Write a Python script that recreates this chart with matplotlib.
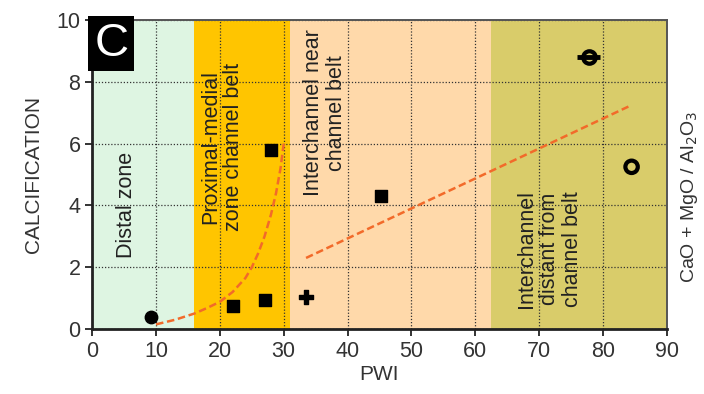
import matplotlib.pyplot as plt
import numpy as np

plt.rcParams['font.family'] = ['Liberation Sans', 'DejaVu Sans']

# zones (PWI ranges)
zone_edges = [0, 16, 31, 62.5, 90]
zone_colors = ['#def5e2', '#ffc500', '#ffd9aa', '#d9cc6a']

# samples
circle_x, circle_y = [9.2], [0.38]
square_x = [22, 27, 28, 45.2]
square_y = [0.75, 0.95, 5.8, 4.3]
plus_x, plus_y = [33.5], [1.05]
err_x, err_y, err_xerr = [77.8], [8.8], [1.8]
open_x, open_y = [84.5], [5.25]

# trend curves
curve1_x = [10, 13, 16, 18, 20, 22, 24, 25, 26, 27, 28, 28.8, 29.5, 30]
curve1_y = [0.15, 0.3, 0.5, 0.68, 0.88, 1.2, 1.65, 2.0, 2.45, 3.0, 3.7, 4.4, 5.2, 6.0]
line2_x = [33.5, 84]
line2_y = [2.3, 7.2]

fig = plt.figure(figsize=(7.04, 3.94), dpi=100)
ax = fig.add_axes([0.131, 0.165, 0.816, 0.784])

for i in range(len(zone_colors)):
    ax.axvspan(zone_edges[i], zone_edges[i + 1], color=zone_colors[i], lw=0, zorder=0)

ax.grid(True, color='#333333', linestyle=(0, (1, 1.5)), linewidth=0.9, zorder=1)

ax.plot(curve1_x, curve1_y, color='#f26a2a', ls=(0, (3, 1.5)), lw=1.8, zorder=3)
ax.plot(line2_x, line2_y, color='#f26a2a', ls=(0, (3, 1.5)), lw=1.8, zorder=3)

ax.scatter(circle_x, circle_y, marker='o', s=80, color='black', zorder=4)
ax.scatter(square_x, square_y, marker='s', s=85, color='black', zorder=4)
ax.scatter(plus_x, plus_y, marker='P', s=90, color='black', zorder=4)
ax.errorbar(err_x, err_y, xerr=err_xerr, fmt='o', ms=9, mfc='none', mec='black',
            mew=3, ecolor='black', elinewidth=3.5, capsize=0, zorder=4)
ax.scatter(open_x, open_y, marker='o', s=80, facecolors='none', edgecolors='black',
           linewidths=3, zorder=4)

txt = dict(rotation=90, ha='center', va='center', fontsize=15.5, color='#222222',
           linespacing=1.12, zorder=5)
ax.text(5.4, 4.0, 'Distal zone', **txt)
ax.text(20.3, 5.9, 'Proximal-medial\nzone channel belt', **txt)
ax.text(36.5, 7.0, 'Interchannel near\nchannel belt', **txt)
ax.text(71.7, 2.6, 'Interchannel\ndistant from\nchannel belt', **txt)

ax.text(0.3, 9.95, 'C', ha='left', va='top', fontsize=34, color='white', zorder=6,
        bbox=dict(boxstyle='square,pad=0.12', fc='black', ec='none'))

ax.set_xlim(0, 90)
ax.set_ylim(0, 10)
ax.set_xticks(np.arange(0, 91, 10))
ax.set_yticks(np.arange(0, 11, 2))
ax.tick_params(labelsize=15.5, colors='#333333', length=5, width=1.4)
ax.set_xlabel('PWI', fontsize=15, color='#333333', labelpad=2)
ax.set_ylabel('CALCIFICATION', fontsize=15, color='#333333', labelpad=10)

for s in ['left', 'bottom']:
    ax.spines[s].set_linewidth(2)
    ax.spines[s].set_color('#222222')
for s in ['top', 'right']:
    ax.spines[s].set_linewidth(1.4)
    ax.spines[s].set_color('#555555')

fig.text(0.98, 0.5, 'CaO + MgO / Al$_2$O$_3$', rotation=90, ha='center', va='center',
         fontsize=14, color='#333333')

fig.savefig('out.png', dpi=100)
